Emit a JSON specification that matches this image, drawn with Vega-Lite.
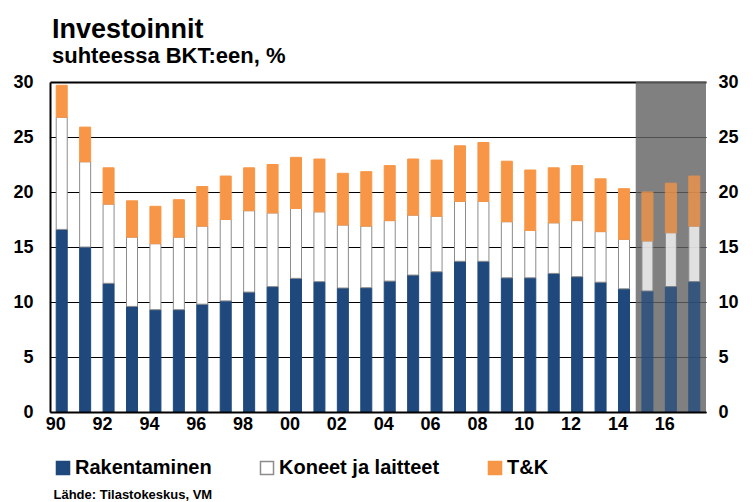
{
  "$schema": "https://vega.github.io/schema/vega-lite/v6.json",
  "width": 656,
  "height": 330,
  "autosize": {"type": "none"},
  "padding": {"left": 50, "top": 82, "right": 50, "bottom": 90},
  "background": "white",
  "config": {
    "font": "Liberation Sans",
    "view": {"stroke": null},
    "axis": {"labelColor": "black", "labelFontWeight": "bold", "labelFontSize": 18, "ticks": false}
  },
  "title": {
    "text": "Investoinnit",
    "subtitle": "suhteessa BKT:een, %",
    "anchor": "start",
    "frame": "group",
    "dx": 2,
    "fontSize": 27,
    "fontWeight": "bold",
    "color": "black",
    "subtitleFontSize": 22,
    "subtitleFontWeight": "bold",
    "subtitleColor": "black",
    "subtitlePadding": 2,
    "offset": 5
  },
  "data": {
    "values": [
      {"vuosi": 1990, "Rakentaminen": 16.6, "Koneet ja laitteet": 10.2, "T&K": 2.9},
      {"vuosi": 1991, "Rakentaminen": 15.0, "Koneet ja laitteet": 7.75, "T&K": 3.15},
      {"vuosi": 1992, "Rakentaminen": 11.7, "Koneet ja laitteet": 7.2, "T&K": 3.3},
      {"vuosi": 1993, "Rakentaminen": 9.6, "Koneet ja laitteet": 6.3, "T&K": 3.3},
      {"vuosi": 1994, "Rakentaminen": 9.3, "Koneet ja laitteet": 6.0, "T&K": 3.4},
      {"vuosi": 1995, "Rakentaminen": 9.3, "Koneet ja laitteet": 6.6, "T&K": 3.4},
      {"vuosi": 1996, "Rakentaminen": 9.8, "Koneet ja laitteet": 7.1, "T&K": 3.6},
      {"vuosi": 1997, "Rakentaminen": 10.1, "Koneet ja laitteet": 7.4, "T&K": 3.95},
      {"vuosi": 1998, "Rakentaminen": 10.9, "Koneet ja laitteet": 7.4, "T&K": 3.9},
      {"vuosi": 1999, "Rakentaminen": 11.4, "Koneet ja laitteet": 6.7, "T&K": 4.4},
      {"vuosi": 2000, "Rakentaminen": 12.15, "Koneet ja laitteet": 6.35, "T&K": 4.65},
      {"vuosi": 2001, "Rakentaminen": 11.85, "Koneet ja laitteet": 6.35, "T&K": 4.8},
      {"vuosi": 2002, "Rakentaminen": 11.27, "Koneet ja laitteet": 5.73, "T&K": 4.7},
      {"vuosi": 2003, "Rakentaminen": 11.3, "Koneet ja laitteet": 5.6, "T&K": 4.95},
      {"vuosi": 2004, "Rakentaminen": 11.9, "Koneet ja laitteet": 5.5, "T&K": 5.0},
      {"vuosi": 2005, "Rakentaminen": 12.45, "Koneet ja laitteet": 5.45, "T&K": 5.1},
      {"vuosi": 2006, "Rakentaminen": 12.75, "Koneet ja laitteet": 5.05, "T&K": 5.1},
      {"vuosi": 2007, "Rakentaminen": 13.7, "Koneet ja laitteet": 5.45, "T&K": 5.05},
      {"vuosi": 2008, "Rakentaminen": 13.7, "Koneet ja laitteet": 5.45, "T&K": 5.35},
      {"vuosi": 2009, "Rakentaminen": 12.2, "Koneet ja laitteet": 5.1, "T&K": 5.5},
      {"vuosi": 2010, "Rakentaminen": 12.2, "Koneet ja laitteet": 4.3, "T&K": 5.5},
      {"vuosi": 2011, "Rakentaminen": 12.6, "Koneet ja laitteet": 4.6, "T&K": 5.0},
      {"vuosi": 2012, "Rakentaminen": 12.3, "Koneet ja laitteet": 5.1, "T&K": 5.0},
      {"vuosi": 2013, "Rakentaminen": 11.8, "Koneet ja laitteet": 4.6, "T&K": 4.8},
      {"vuosi": 2014, "Rakentaminen": 11.2, "Koneet ja laitteet": 4.5, "T&K": 4.6},
      {"vuosi": 2015, "Rakentaminen": 11.0, "Koneet ja laitteet": 4.55, "T&K": 4.45},
      {"vuosi": 2016, "Rakentaminen": 11.4, "Koneet ja laitteet": 4.9, "T&K": 4.5},
      {"vuosi": 2017, "Rakentaminen": 11.85, "Koneet ja laitteet": 5.05, "T&K": 4.55}
    ]
  },
  "resolve": {"axis": {"y": "independent"}},
  "layer": [
    {
      "transform": [
        {"filter": "datum.vuosi >= 2015"},
        {"aggregate": [{"op": "min", "field": "vuosi", "as": "vuosi"}, {"op": "max", "field": "vuosi", "as": "loppu"}]}
      ],
      "mark": {"type": "rect", "color": "#636363", "opacity": 0.81},
      "encoding": {
        "x": {"field": "vuosi", "type": "ordinal", "bandPosition": 0},
        "x2": {"field": "loppu", "bandPosition": 1},
        "y": {"datum": 0, "type": "quantitative", "axis": {"orient": "right", "values": [0, 5, 10, 15, 20, 25, 30], "domain": false, "grid": false, "labelPadding": 12, "title": null}},
        "y2": {"datum": 30}
      }
    },
    {
      "transform": [
        {"fold": ["Rakentaminen", "Koneet ja laitteet", "T&K"], "as": ["tyyppi", "arvo"]},
        {"calculate": "indexof(['Rakentaminen', 'Koneet ja laitteet', 'T&K'], datum.tyyppi)", "as": "jarjestys"}
      ],
      "mark": {"type": "bar", "width": {"band": 0.47}, "strokeWidth": 1},
      "encoding": {
        "x": {
          "field": "vuosi",
          "type": "ordinal",
          "scale": {"paddingInner": 0, "paddingOuter": 0},
          "axis": {
            "values": [1990, 1992, 1994, 1996, 1998, 2000, 2002, 2004, 2006, 2008, 2010, 2012, 2014, 2016],
            "labelExpr": "slice(toString(datum.value), 2)",
            "labelAngle": 0,
            "labelPadding": 12,
            "labelOffset": 4,
            "domainColor": "black",
            "domainWidth": 2,
            "title": "Lähde: Tilastokeskus, VM",
            "titleAnchor": "start",
            "titleAlign": "left",
            "titleBaseline": "alphabetic",
            "titleX": 3,
            "titleY": 86,
            "titleFontSize": 13,
            "titleFontWeight": "bold",
            "titleColor": "black"
          }
        },
        "y": {
          "field": "arvo",
          "type": "quantitative",
          "stack": "zero",
          "scale": {"domain": [0, 30], "nice": false},
          "axis": {
            "orient": "left",
            "values": [0, 5, 10, 15, 20, 25, 30],
            "grid": true,
            "gridColor": "black",
            "gridOpacity": 1,
            "gridWidth": {"condition": {"test": "datum.value == 30", "value": 2}, "value": 1},
            "domainColor": "black",
            "domainWidth": 2,
            "labelPadding": 17,
            "title": null
          }
        },
        "order": {"field": "jarjestys", "type": "quantitative", "sort": "ascending"},
        "fill": {
          "field": "tyyppi",
          "type": "nominal",
          "sort": ["Rakentaminen", "Koneet ja laitteet", "T&K"],
          "scale": {"domain": ["Rakentaminen", "Koneet ja laitteet", "T&K"], "range": ["#1f497d", "#ffffff", "#f79646"]},
          "legend": {
            "title": null,
            "orient": "none",
            "direction": "horizontal",
            "columns": 3,
            "legendX": 3,
            "legendY": 376,
            "padding": 0,
            "symbolType": "square",
            "symbolSize": 170,
            "symbolStrokeWidth": 1.5,
            "symbolOpacity": 1,
            "labelFontSize": 20,
            "labelFontWeight": "bold",
            "labelColor": "black",
            "labelLimit": 400,
            "labelOffset": 2,
            "columnPadding": 45
          }
        },
        "stroke": {
          "field": "tyyppi",
          "type": "nominal",
          "sort": ["Rakentaminen", "Koneet ja laitteet", "T&K"],
          "scale": {"domain": ["Rakentaminen", "Koneet ja laitteet", "T&K"], "range": ["#1f497d", "#8c8c8c", "#f79646"]},
          "legend": {
            "title": null,
            "orient": "none",
            "direction": "horizontal",
            "columns": 3,
            "legendX": 3,
            "legendY": 376,
            "padding": 0,
            "symbolType": "square",
            "symbolSize": 170,
            "symbolStrokeWidth": 1.5,
            "labelFontSize": 20,
            "labelFontWeight": "bold",
            "labelColor": "black",
            "labelLimit": 400,
            "labelOffset": 2,
            "columnPadding": 45
          }
        },
        "opacity": {"condition": {"test": "datum.vuosi >= 2015", "value": 0.76}, "value": 1}
      }
    }
  ]
}
